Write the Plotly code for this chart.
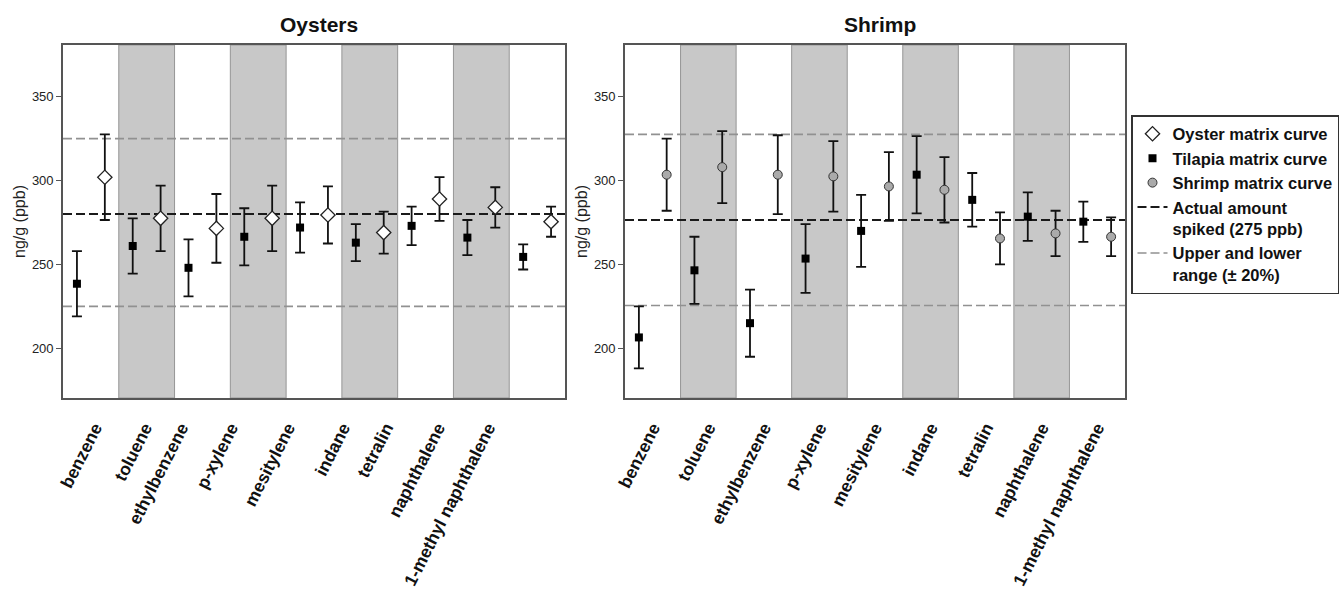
import numpy as np
import plotly.graph_objects as go

# ---------------- data ----------------
categories = ["benzene", "toluene", "ethylbenzene", "p-xylene", "mesitylene",
              "indane", "tetralin", "naphthalene", "1-methyl naphthalene"]

# Oysters panel
oyst_tilapia = [238.5, 261.0, 248.0, 266.5, 272.0, 263.0, 273.0, 266.0, 254.5]
oyst_tilapia_err = [19.5, 16.5, 17.0, 17.0, 15.0, 11.0, 11.5, 10.5, 7.5]
oyst_oyster = [302.0, 277.5, 271.5, 277.5, 279.5, 269.0, 289.0, 284.0, 275.5]
oyst_oyster_err = [25.5, 19.5, 20.5, 19.5, 17.0, 12.5, 13.0, 12.0, 9.0]
oyst_actual = 280.0
oyst_upper = 325.0
oyst_lower = 225.0

# Shrimp panel
shr_tilapia = [206.5, 246.5, 215.0, 253.5, 270.0, 303.5, 288.5, 278.5, 275.5]
shr_tilapia_err = [18.5, 20.0, 20.0, 20.5, 21.5, 23.0, 16.0, 14.5, 12.0]
shr_shrimp = [303.5, 308.0, 303.5, 302.5, 296.5, 294.5, 265.5, 268.5, 266.5]
shr_shrimp_err = [21.5, 21.5, 23.5, 21.0, 20.5, 19.5, 15.5, 13.5, 11.5]
shr_actual = 276.5
shr_upper = 327.5
shr_lower = 225.5

panel_titles = ["Oysters", "Shrimp"]
y_title = "ng/g (ppb)"
y_ticks = [200, 250, 300, 350]
legend_names = ["Oyster matrix curve", "Tilapia matrix curve", "Shrimp matrix curve",
                "Actual amount<br>spiked (275 ppb)", "Upper and lower<br>range (± 20%)"]

# ---------------- layout / style ----------------
FONT = "Liberation Sans, Arial, Helvetica, sans-serif"
W, H = 1343, 591
FRAME = "#555555"
BAND = "rgb(200,200,200)"
BAND_EDGE = "rgb(150,150,150)"
GREY_DASH = "rgb(145,145,145)"

n = len(categories)
idx = np.arange(n)
x_first = idx + 0.25
x_second = idx + 0.75

# label placement in the reference: the Oysters labels are set a little
# tighter than the category centres, the Shrimp ones sit on the centres
left_label_pos = [0.57, 1.47, 2.12, 3.01, 4.03, 5.02, 5.79, 6.72, 7.62]
right_label_pos = list(idx + 0.5)

fig = go.Figure()


def ref_lines(xa, ya, actual, upper, lower, show):
    xs = [0, n]
    for val, col, nm, sl, wd in [(upper, GREY_DASH, legend_names[4], show, 1.6),
                                 (lower, GREY_DASH, legend_names[4], False, 1.6),
                                 (actual, "#1a1a1a", legend_names[3], show, 2.0)]:
        fig.add_trace(go.Scatter(
            x=xs, y=[val, val], mode="lines", xaxis=xa, yaxis=ya,
            line=dict(color=col, width=wd, dash="9px,4px"),
            name=nm, showlegend=sl, hoverinfo="skip",
            legendrank=5 if col == GREY_DASH else 4,
            legendgroup=nm))


ref_lines("x", "y", oyst_actual, oyst_upper, oyst_lower, False)
ref_lines("x2", "y2", shr_actual, shr_upper, shr_lower, True)

err_style = dict(type="data", thickness=1.8, width=5, color="#111111")

# Oysters panel points
fig.add_trace(go.Scatter(
    x=x_first, y=oyst_tilapia, mode="markers", xaxis="x", yaxis="y",
    error_y=dict(array=oyst_tilapia_err, **err_style),
    marker=dict(symbol="square", size=8, color="#000000"),
    name=legend_names[1], legendrank=2, legendgroup="til", showlegend=True))
fig.add_trace(go.Scatter(
    x=x_second, y=oyst_oyster, mode="markers", xaxis="x", yaxis="y",
    error_y=dict(array=oyst_oyster_err, **err_style),
    marker=dict(symbol="diamond", size=11, color="white",
                line=dict(color="#222222", width=1.3)),
    name=legend_names[0], legendrank=1, legendgroup="oys", showlegend=True))

# Shrimp panel points
fig.add_trace(go.Scatter(
    x=x_first, y=shr_tilapia, mode="markers", xaxis="x2", yaxis="y2",
    error_y=dict(array=shr_tilapia_err, **err_style),
    marker=dict(symbol="square", size=8, color="#000000"),
    name=legend_names[1], legendgroup="til", showlegend=False))
fig.add_trace(go.Scatter(
    x=x_second, y=shr_shrimp, mode="markers", xaxis="x2", yaxis="y2",
    error_y=dict(array=shr_shrimp_err, **err_style),
    marker=dict(symbol="circle", size=9, color="rgb(170,170,170)",
                line=dict(color="#333333", width=1)),
    name=legend_names[2], legendrank=3, legendgroup="shr", showlegend=True))

# alternating shaded bands
shapes = []
for xr, yr in [("x", "y domain"), ("x2", "y2 domain")]:
    for i in range(n):
        if i % 2 == 1:
            shapes.append(dict(type="rect", xref=xr, yref=yr,
                               x0=i, x1=i + 1, y0=0, y1=1, layer="below",
                               fillcolor=BAND, line=dict(color=BAND_EDGE, width=1)))

dom_y = [1 - 398 / H, 1 - 45 / H]
dom_left = [63 / W, 565 / W]
dom_right = [625 / W, 1125 / W]

xaxis_common = dict(range=[0, n], ticktext=categories,
                    tickangle=-63, ticks="outside", ticklen=11,
                    tickcolor="rgba(0,0,0,0)",
                    tickfont=dict(family=FONT, size=17.5, color="#111111", weight="bold"),
                    showgrid=False, zeroline=False, automargin=False,
                    showline=True, mirror=True, linecolor=FRAME, linewidth=1.6,
                    fixedrange=True)
yaxis_common = dict(range=[170.4, 380.8], tickvals=y_ticks, ticks="outside",
                    ticklen=5, tickwidth=1.2, tickcolor=FRAME,
                    tickfont=dict(family=FONT, size=13, color="#222222"),
                    title=dict(text=y_title, font=dict(family=FONT, size=16, color="#222222"),
                               standoff=2),
                    showgrid=False, zeroline=False, automargin=False,
                    showline=True, mirror=True, linecolor=FRAME, linewidth=1.6,
                    fixedrange=True)

annotations = []
for i, (xr, yr) in enumerate([("x domain", "y domain"), ("x2 domain", "y2 domain")]):
    annotations.append(dict(text=panel_titles[i], xref=xr, yref=yr, x=0.5, y=1,
                            yanchor="middle", yshift=21, xshift=5, showarrow=False,
                            font=dict(family=FONT, size=21, color="#111111", weight="bold")))

fig.update_layout(
    width=W, height=H,
    margin=dict(l=0, r=0, t=0, b=0, autoexpand=False),
    paper_bgcolor="white", plot_bgcolor="white",
    xaxis=dict(domain=dom_left, anchor="y", tickvals=left_label_pos, **xaxis_common),
    yaxis=dict(domain=dom_y, anchor="x", **yaxis_common),
    xaxis2=dict(domain=dom_right, anchor="y2", tickvals=right_label_pos, **xaxis_common),
    yaxis2=dict(domain=dom_y, anchor="x2", **yaxis_common),
    shapes=shapes,
    annotations=annotations,
    showlegend=True,
    legend=dict(x=1131 / W, y=1 - 115 / H, xanchor="left", yanchor="top",
                bgcolor="white", bordercolor="#333333", borderwidth=1.5,
                font=dict(family=FONT, size=16.5, color="#111111", weight="bold"),
                valign="top", tracegroupgap=2, itemwidth=30,
                traceorder="normal"),
    hovermode=False,
)

fig.write_html("out.html", post_script="document.body.style.margin='0';",
               config={"displayModeBar": False})
